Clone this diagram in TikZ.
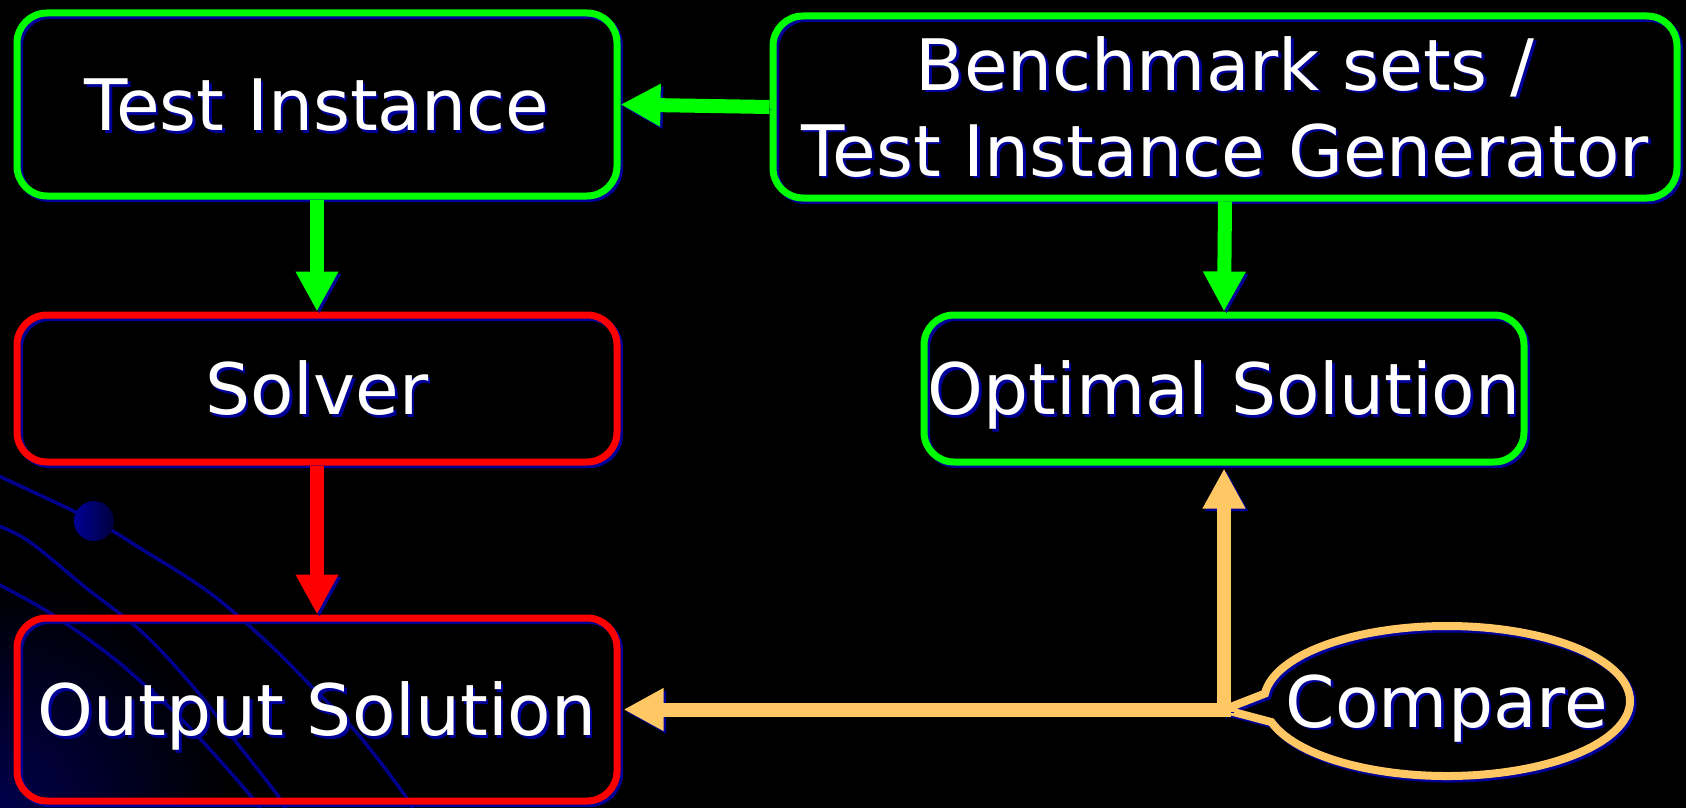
\documentclass[tikz,border=0pt]{standalone}
\usepackage{fontspec}
\setmainfont{DejaVu Sans}
\usetikzlibrary{arrows.meta,shapes.callouts}

\definecolor{flowgreen}{RGB}{0,255,0}
\definecolor{flowred}{RGB}{255,0,0}
\definecolor{floworange}{RGB}{255,200,100}
\definecolor{shadeblue}{RGB}{0,0,153}
\definecolor{decoblue}{RGB}{0,0,140}
\definecolor{dotlight}{RGB}{0,0,150}
\definecolor{dotdark}{RGB}{0,0,60}
\definecolor{cornerblue}{RGB}{0,0,75}

% white text with a blue drop shadow
\newcommand\shtext[1]{\rlap{\smash{\kern2.5pt\raisebox{-2.5pt}{\textcolor{shadeblue}{#1}}}}#1}

\tikzset{
  shadowed/.style={preaction={draw=shadeblue,transform canvas={xshift=2.5pt,yshift=-2.5pt}}},
  stagebox/.style={shape=rectangle, draw=#1, line width=7pt, rounded corners=30pt,
    inner sep=0pt, text=white, font=\fontsize{71}{86}\selectfont, shadowed},
  onerow/.style={text height=52pt, text depth=0pt},
  flowarrow/.style={draw=#1, line width=14pt, -{Triangle[width=40pt,length=40pt]}, shadowed},
  decoline/.style={draw=decoblue, line width=3.5pt},
}

\begin{document}
\begin{tikzpicture}[x=1pt,y=-1pt]
  \useasboundingbox (0,0) rectangle (1686,808);
  \fill[black] (0,0) rectangle (1686,808);

  % background ornament: glow in the corner, swept lines and a dot
  \begin{scope}
    \clip (0,0) rectangle (1686,808);
    \shade[inner color=cornerblue, outer color=black] (0,808) circle (230);
    \draw[decoline] plot[smooth, tension=0.6] coordinates
      {(-10,472) (94,521) (143,550) (210,593) (268,643) (312,687) (357,733) (406,797) (414,815)};
    \draw[decoline] plot[smooth, tension=0.6] coordinates
      {(-10,523) (27,540) (85,587) (143,633) (196,690) (237,743) (281,800) (286,815)};
    \draw[decoline] plot[smooth, tension=0.6] coordinates
      {(-10,580) (45,610) (103,650) (147,687) (192,730) (254,800) (259,815)};
  \end{scope}
  \shade[left color=dotlight, right color=dotdark] (94,521) circle (20);

  % stages
  \node (ti)  [stagebox=flowgreen, onerow, minimum width=600pt, minimum height=183pt] at (317,104.5) {\shtext{Test Instance}};
  \node (ben) [stagebox=flowgreen, align=center, minimum width=904pt, minimum height=182pt] at (1225,107)
    {\shtext{Benchmark sets /}\\\shtext{Test Instance Generator}};
  \node (sol) [stagebox=flowred, onerow, minimum width=600pt, minimum height=147pt] at (317,388.5) {\shtext{Solver}};
  \node (opt) [stagebox=flowgreen, onerow, minimum width=600pt, minimum height=147pt] at (1224,388.5) {\shtext{Optimal Solution}};
  \node (out) [stagebox=flowred, onerow, minimum width=600pt, minimum height=183pt] at (317,709.5) {\shtext{Output Solution}};

  % comparison callout
  \coordinate (jn) at (opt.south |- out.east);
  \node (cmp) [ellipse callout, draw=floworange, line width=8pt, shadowed, inner sep=0pt,
    minimum width=366pt, minimum height=150pt, text=white, onerow,
    font=\fontsize{71}{86}\selectfont,
    callout absolute pointer={(jn)}, callout pointer arc=22] at (1447,701)
    {\makebox[0pt]{\shtext{Compare}}};

  % connectors
  \draw[flowarrow=flowgreen] (ben.west) -- (ti.east);
  \draw[flowarrow=flowgreen] (ti.south) -- (sol.north);
  \draw[flowarrow=flowgreen] (ben.south) -- (opt.south |- opt.north);
  \draw[flowarrow=flowred] (sol.south) -- (out.north);
  \draw[flowarrow=floworange] ([yshift=-7pt]jn) -- ([yshift=-3pt]opt.south);
  \draw[flowarrow=floworange] ([xshift=7pt]jn) -- ([xshift=3pt]out.east);
\end{tikzpicture}
\end{document}
